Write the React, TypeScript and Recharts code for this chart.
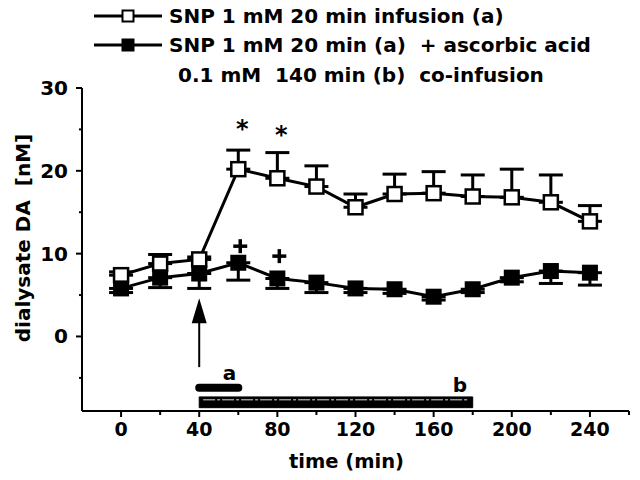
import React from 'react';
import {
  ComposedChart,
  Line,
  XAxis,
  YAxis,
  ErrorBar,
  ReferenceLine,
  ReferenceArea,
  ReferenceDot,
} from 'recharts';

// ---- data ----
const times = [0, 20, 40, 60, 80, 100, 120, 140, 160, 180, 200, 220, 240];
const snpMean = [7.4, 8.8, 9.3, 20.2, 19.1, 18.1, 15.6, 17.2, 17.3, 16.9, 16.8, 16.2, 13.9];
const snpSem = [0.4, 1.1, 0.3, 2.3, 3.1, 2.5, 1.6, 2.4, 2.6, 2.6, 3.4, 3.3, 1.9];
const ascMean = [5.8, 7.1, 7.6, 8.9, 7.0, 6.5, 5.8, 5.7, 4.8, 5.7, 7.1, 7.9, 7.7];
const ascSem = [0.5, 1.2, 1.8, 2.1, 1.2, 1.2, 0.5, 0.5, 0.4, 0.4, 0.5, 1.5, 1.5];

const xTicks = [0, 20, 40, 60, 80, 100, 120, 140, 160, 180, 200, 220, 240, 260];
const xLabelled = [0, 40, 80, 120, 160, 200, 240];
const yTicks = [-5, 0, 5, 10, 15, 20, 25, 30];
const yLabelled = [0, 10, 20, 30];

const starTimes = [62, 82];
const starLevels = [25.6, 24.9];
const plusTimes = [61, 81];
const plusLevels = [10.9, 9.7];

const infusionA = [40, 60];
const infusionALevel = -6.2;
const infusionB = [40, 180];
const infusionBLevels = [-8.6, -7.3];
const arrowTime = 40;
const arrowRange = [-3.7, 4.6];
const letterLabels = ['a', 'b'];
const letterTimes = [55.5, 173.5];
const letterLevels = [-4.4, -5.9];

const legendLabels = [
  'SNP 1 mM 20 min infusion (a)',
  'SNP 1 mM 20 min (a)  + ascorbic acid',
  '0.1 mM  140 min (b)  co-infusion',
];

const rows = times.map((t, i) => ({
  t,
  snp: snpMean[i],
  snpErr: [0, snpSem[i]],
  asc: ascMean[i],
  ascErr: [ascSem[i], 0],
}));

const FONT = '"DejaVu Sans", sans-serif';
const X_TICK_SIZE = 6;
const X_TICK_MARGIN = 2;
const Y_TICK_SIZE = 6;
const Y_TICK_MARGIN = 8;

const OpenSquare = (p: any) => (
  <rect key={`o${p.index}`} x={p.cx - 7} y={p.cy - 7} width={14} height={14} fill="#fff" stroke="#000" strokeWidth={2.5} />
);
const FilledSquare = (p: any) => (
  <rect key={`f${p.index}`} x={p.cx - 7} y={p.cy - 7} width={14} height={14} fill="#000" stroke="#000" strokeWidth={2} />
);

const XTick = (props: any) => {
  const { x, y, payload } = props;
  const v = payload.value;
  const axisY = y - X_TICK_SIZE - X_TICK_MARGIN;
  const major = xLabelled.includes(v);
  return (
    <g>
      <line x1={x} x2={x} y1={axisY} y2={axisY + (major ? 6 : 4)} stroke="#000" strokeWidth={2} />
      {major && (
        <text x={x} y={axisY + 25} textAnchor="middle" fontFamily={FONT} fontWeight="bold" fontSize={19} fill="#000">
          {v}
        </text>
      )}
    </g>
  );
};

const YTick = (props: any) => {
  const { x, y, payload } = props;
  const v = payload.value;
  const axisX = x + Y_TICK_SIZE + Y_TICK_MARGIN;
  const major = yLabelled.includes(v);
  return (
    <g>
      <line x1={axisX} x2={axisX - (major ? 6 : 3)} y1={y} y2={y} stroke="#000" strokeWidth={2} />
      {major && (
        <text x={axisX - 14} y={y + 7} textAnchor="end" fontFamily={FONT} fontWeight="bold" fontSize={20} fill="#000">
          {v}
        </text>
      )}
    </g>
  );
};

const XTitle = (p: any) => {
  const vb = p.viewBox || {};
  return (
    <text x={vb.x + vb.width / 2 - 9} y={vb.y + 57} textAnchor="middle" fontFamily={FONT} fontWeight="bold" fontSize={19.5} fill="#000">
      time (min)
    </text>
  );
};

const YTitle = () => {
  const cx = 15;
  const cy = 230;
  return (
    <text
      x={cx}
      y={cy}
      textAnchor="middle"
      dominantBaseline="central"
      transform={`rotate(-90 ${cx} ${cy})`}
      fontFamily={FONT}
      fontWeight="bold"
      fontSize={20}
      fill="#000"
      style={{ whiteSpace: 'pre' }}
    >
      {'dialysate DA  [nM]'}
    </text>
  );
};

const StarShape = (p: any) => (
  <text x={p.cx} y={p.cy + 13} textAnchor="middle" fontFamily={FONT} fontWeight="bold" fontSize={24} fill="#000">
    *
  </text>
);

const PlusShape = (p: any) => (
  <g>
    <line x1={p.cx - 7} x2={p.cx + 7} y1={p.cy} y2={p.cy} stroke="#000" strokeWidth={3.5} />
    <line x1={p.cx} x2={p.cx} y1={p.cy - 7} y2={p.cy + 7} stroke="#000" strokeWidth={3.5} />
  </g>
);

const ArrowHead = (p: any) => (
  <path d={`M${p.cx},${p.cy} L${p.cx + 7.5},${p.cy + 25} L${p.cx - 7.5},${p.cy + 25} Z`} fill="#000" />
);

const makeLetter = (s: string) => (p: any) => (
  <text x={p.cx} y={p.cy + 7} textAnchor="middle" fontFamily={FONT} fontWeight="bold" fontSize={20} fill="#000">
    {s}
  </text>
);

const Legend = () => (
  <svg width={640} height={100} style={{ position: 'absolute', left: -8, top: -8, pointerEvents: 'none' }}>
    <line x1={94} x2={162} y1={16} y2={16} stroke="#000" strokeWidth={3} />
    <rect x={122.5} y={10.5} width={11} height={11} fill="#fff" stroke="#000" strokeWidth={2} />
    <line x1={94} x2={162} y1={45} y2={45} stroke="#000" strokeWidth={3} />
    <rect x={122.5} y={39.5} width={11} height={11} fill="#000" stroke="#000" strokeWidth={2} />
    <text x={169} y={23} fontFamily={FONT} fontWeight="bold" fontSize={20} fill="#000" style={{ whiteSpace: 'pre' }}>
      {legendLabels[0]}
    </text>
    <text x={169} y={52} fontFamily={FONT} fontWeight="bold" fontSize={20} fill="#000" style={{ whiteSpace: 'pre' }}>
      {legendLabels[1]}
    </text>
    <text x={178} y={82} fontFamily={FONT} fontWeight="bold" fontSize={20} fill="#000" style={{ whiteSpace: 'pre' }}>
      {legendLabels[2]}
    </text>
  </svg>
);

export default function App() {
  return (
    <div style={{ position: 'relative', width: 632, height: 472, background: '#fff' }}>
      <ComposedChart width={632} height={472} data={rows} margin={{ top: 80, right: 11, bottom: 0, left: 0 }}>
        <XAxis
          dataKey="t"
          type="number"
          domain={[-20, 260]}
          ticks={xTicks}
          interval={0}
          height={69}
          axisLine={{ stroke: '#000', strokeWidth: 2 }}
          tickLine={false}
          tickSize={X_TICK_SIZE}
          tickMargin={X_TICK_MARGIN}
          tick={<XTick />}
          label={<XTitle />}
        />
        <YAxis
          type="number"
          domain={[-9, 30]}
          ticks={yTicks}
          interval={0}
          width={74}
          axisLine={{ stroke: '#000', strokeWidth: 2 }}
          tickLine={false}
          tickSize={Y_TICK_SIZE}
          tickMargin={Y_TICK_MARGIN}
          tick={<YTick />}
          label={<YTitle />}
        />

        <ReferenceArea
          x1={infusionB[0]}
          x2={infusionB[1]}
          y1={infusionBLevels[0]}
          y2={infusionBLevels[1]}
          fill="#000"
          fillOpacity={1}
          stroke="#000"
          ifOverflow="visible"
        />
        <ReferenceLine
          segment={[
            { x: infusionB[0] + 2, y: (infusionBLevels[0] + infusionBLevels[1]) / 2 + 0.3 },
            { x: infusionB[1] - 2, y: (infusionBLevels[0] + infusionBLevels[1]) / 2 + 0.3 },
          ]}
          stroke="#ddd"
          strokeWidth={1}
          strokeDasharray="12 2 3 2"
          ifOverflow="visible"
        />
        <ReferenceLine
          segment={[
            { x: infusionA[0], y: infusionALevel },
            { x: infusionA[1], y: infusionALevel },
          ]}
          stroke="#000"
          strokeWidth={8}
          strokeLinecap="round"
          ifOverflow="visible"
        />
        <ReferenceLine
          segment={[
            { x: arrowTime, y: arrowRange[0] },
            { x: arrowTime, y: arrowRange[1] - 1.5 },
          ]}
          stroke="#000"
          strokeWidth={2}
          ifOverflow="visible"
        />
        <ReferenceDot x={arrowTime} y={arrowRange[1]} shape={ArrowHead} ifOverflow="visible" />
        {letterLabels.map((s, i) => (
          <ReferenceDot key={s} x={letterTimes[i]} y={letterLevels[i]} shape={makeLetter(s)} ifOverflow="visible" />
        ))}

        <Line
          dataKey="snp"
          type="linear"
          stroke="#000"
          strokeWidth={3}
          dot={OpenSquare}
          activeDot={false}
          isAnimationActive={false}
        >
          <ErrorBar dataKey="snpErr" direction="y" width={12} stroke="#000" strokeWidth={3} isAnimationActive={false} />
        </Line>
        <Line
          dataKey="asc"
          type="linear"
          stroke="#000"
          strokeWidth={3}
          dot={FilledSquare}
          activeDot={false}
          isAnimationActive={false}
        >
          <ErrorBar dataKey="ascErr" direction="y" width={12} stroke="#000" strokeWidth={3} isAnimationActive={false} />
        </Line>

        {starTimes.map((t, i) => (
          <ReferenceDot key={`s${t}`} x={t} y={starLevels[i]} shape={StarShape} ifOverflow="visible" />
        ))}
        {plusTimes.map((t, i) => (
          <ReferenceDot key={`p${t}`} x={t} y={plusLevels[i]} shape={PlusShape} ifOverflow="visible" />
        ))}
      </ComposedChart>
      <Legend />
    </div>
  );
}
